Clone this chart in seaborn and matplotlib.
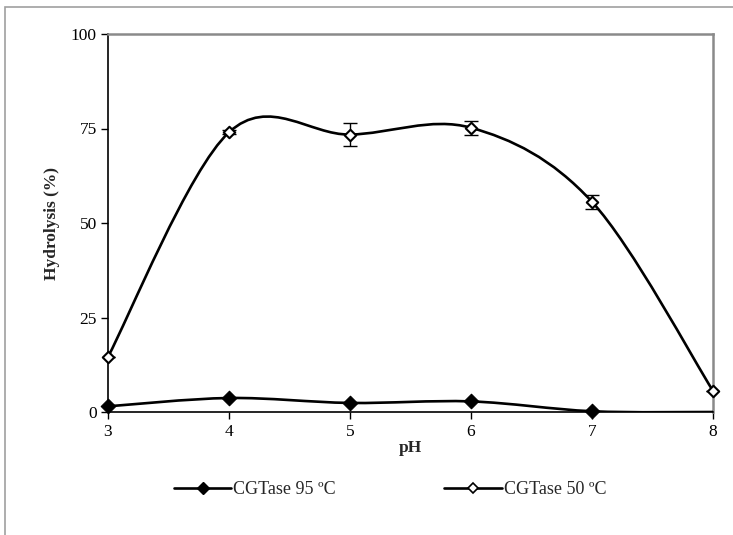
import numpy as np
import matplotlib
matplotlib.use("Agg")
import matplotlib.pyplot as plt
import seaborn as sns
import pandas as pd
from matplotlib.path import Path
from matplotlib.patches import PathPatch, Rectangle
from matplotlib.lines import Line2D

# ---- data ----
ph = [3, 4, 5, 6, 7, 8]
cgt95 = [1.5, 3.7, 2.4, 2.8, 0.2, 0.0]
cgt50 = [14.6, 74.0, 73.4, 75.2, 55.6, 5.6]
err50 = [0.0, 0.5, 3.0, 1.9, 1.8, 0.0]
labels = ["CGTase 95 \u00baC", "CGTase 50 \u00baC"]
yticks = [0, 25, 50, 75, 100]

sns.set_theme(style="white")
plt.rcParams["font.family"] = ["Liberation Serif", "DejaVu Serif"]

fig = plt.figure(figsize=(7.33, 5.35), dpi=100)
ax = fig.add_axes([108 / 733, 1 - 412 / 535, 605 / 733, 378 / 535])

# outer frame (top and left visible)
fig.add_artist(Rectangle((5 / 733, -0.2), 1.5, 0.2 + 1 - 7 / 535, transform=fig.transFigure,
                         fill=False, edgecolor="#a0a0a0", linewidth=1.2))


def smooth_path(xs, ys):
    pts = np.column_stack([xs, ys]).astype(float)
    n = len(pts)
    verts = [pts[0]]
    codes = [Path.MOVETO]
    for i in range(n - 1):
        p0 = pts[i - 1] if i > 0 else pts[i]
        p1 = pts[i]
        p2 = pts[i + 1]
        p3 = pts[i + 2] if i + 2 < n else pts[i + 1]
        c1 = p1 + (p2 - p0) / 6.0
        c2 = p2 - (p3 - p1) / 6.0
        verts += [c1, c2, p2]
        codes += [Path.CURVE4] * 3
    return Path(verts, codes)


for ys in (cgt95, cgt50):
    ax.add_patch(PathPatch(smooth_path(ph, ys), facecolor="none", edgecolor="black",
                           linewidth=1.9, transform=ax.transData, zorder=3))

ax.errorbar(ph, cgt50, yerr=err50, fmt="none", ecolor="black", elinewidth=1.0,
            capsize=5, capthick=1.0, zorder=4)

df95 = pd.DataFrame({"pH": ph[:-1], "v": cgt95[:-1]})
df50 = pd.DataFrame({"pH": ph, "v": cgt50})
sns.scatterplot(data=df95, x="pH", y="v", marker="D", s=55, color="black",
                edgecolor="black", linewidth=0.8, ax=ax, zorder=5, legend=False,
                clip_on=False)
sns.scatterplot(data=df50, x="pH", y="v", marker="D", s=34, facecolor="white",
                edgecolor="black", linewidth=1.5, ax=ax, zorder=5, legend=False,
                clip_on=False)

ax.set_xlim(3, 8)
ax.set_ylim(0, 100)
ax.set_xticks(ph)
ax.set_yticks(yticks)
ax.tick_params(axis="both", direction="out", length=5, width=1.0, colors="black",
               labelsize=12.5, pad=3, bottom=True, left=True)
ax.tick_params(axis="x", pad=4)
for s in ("left", "bottom"):
    ax.spines[s].set_color("black")
    ax.spines[s].set_linewidth(1.2)
for s in ("top", "right"):
    ax.spines[s].set_color("#8a8a8a")
    ax.spines[s].set_linewidth(1.8)
ax.set_xlabel("pH", fontsize=12.5, fontweight="bold", labelpad=0)
ax.set_ylabel("Hydrolysis (%)", fontsize=12.5, fontweight="bold", labelpad=8)
ax.grid(False)

handles = [
    Line2D([], [], color="black", linewidth=1.9, marker="D", markersize=6,
           markerfacecolor="black", markeredgecolor="black"),
    Line2D([], [], color="black", linewidth=1.9, marker="D", markersize=5,
           markerfacecolor="white", markeredgecolor="black", markeredgewidth=1.2),
]
fig.legend(handles, labels, loc="center", bbox_to_anchor=(390 / 733, 1 - 490 / 535),
           ncol=2, frameon=False, fontsize=13, handlelength=3.2, handletextpad=0.1,
           columnspacing=6.0)

fig.savefig("out.png", dpi=100)
